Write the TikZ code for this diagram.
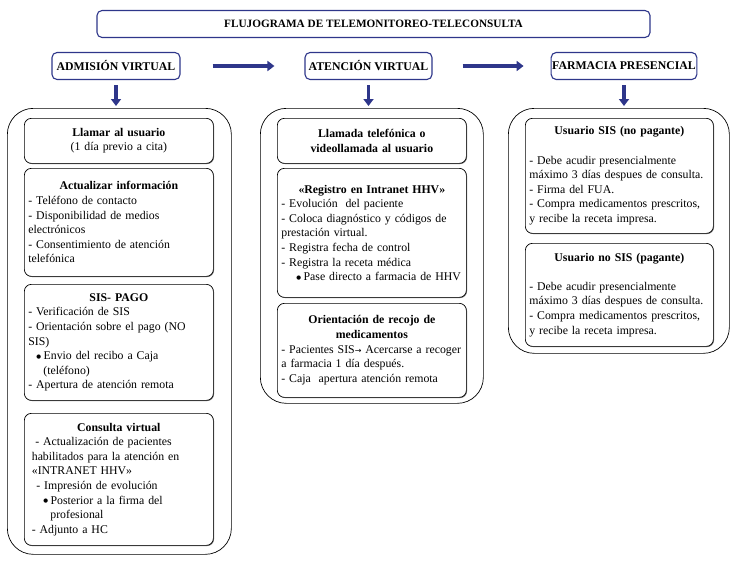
\documentclass[tikz,border=0pt]{standalone}
\usepackage{fontspec}
\setmainfont{Liberation Serif}
\newfontfamily\djv{DejaVu Sans}
\newcommand\bul{\raisebox{1.6pt}{\djv\fontsize{5.5}{5.5}\selectfont ●}}
\newcommand\rarr{{\djv\fontsize{8}{8}\selectfont →}}
\usetikzlibrary{arrows.meta,shadows}
\definecolor{navy}{RGB}{46,54,138}
\begin{document}
\begin{tikzpicture}[x=1pt,y=-1pt,
  hdr/.style={draw=navy, line width=1.1pt, rounded corners=5pt, fill=white,
    font=\fontsize{11.8}{13}\selectfont\bfseries, inner sep=1pt, minimum height=27pt},
  outerbox/.style={draw=black, line width=0.7pt, rounded corners=26pt, anchor=north west, inner sep=0pt},
  inbox/.style={draw=black, line width=0.7pt, rounded corners=7pt, fill=white, anchor=north west,
    inner xsep=4pt, inner ysep=0pt, align=left, font=\fontsize{11.8}{14.6}\selectfont,
    general shadow={fill=black!55, shadow xshift=0.7pt, shadow yshift=-0.7pt}},
  flow/.style={draw=navy, line width=3.6pt, -{Triangle[length=7pt,width=10pt]}}
]
\useasboundingbox (0,0) rectangle (738,562);

% headers
\node[hdr, minimum width=553pt, font=\fontsize{11.25}{13}\selectfont\bfseries] (title) at (373.5,24) {FLUJOGRAMA DE TELEMONITOREO-TELECONSULTA};
\node[hdr, minimum width=128pt] (adm) at (116,66) {ADMISIÓN VIRTUAL};
\node[hdr, minimum width=127pt] (aten) at (368.5,66) {ATENCIÓN VIRTUAL};
\node[hdr, minimum width=142pt] (farm) at (624,66) {FARMACIA PRESENCIAL};

% containers
\node[outerbox, minimum width=224pt, minimum height=446pt] (L) at (7,108) {};
\node[outerbox, minimum width=223pt, minimum height=295pt] (M) at (260,108) {};
\node[outerbox, minimum width=221pt, minimum height=245pt] (R) at (508,108) {};

% arrows
\draw[flow] ([xshift=32pt]adm.east) -- ([xshift=-30pt]aten.west);
\draw[flow] ([xshift=30pt]aten.east) -- ([xshift=-27pt]farm.west);
\coordinate (d1) at (adm.south |- L.north);
\coordinate (d2) at (aten.south |- M.north);
\coordinate (d3) at (farm.south |- R.north);
\draw[flow] ([yshift=-5pt]adm.south) -- ([yshift=2pt]d1);
\draw[flow] ([yshift=-5pt]aten.south) -- ([yshift=2pt]d2);
\draw[flow] ([yshift=-5pt]farm.south) -- ([yshift=2pt]d3);

% left column
\node[inbox, text width=181pt, minimum height=45pt, align=center] (l1) at (24,118)
  {\textbf{Llamar al usuario}\\(1 día previo a cita)};
\node[inbox, text width=181pt, minimum height=108pt] (l2) at (24,168)
  {{\centering\bfseries Actualizar información\par}
   - Teléfono de contacto\\
   - Disponibilidad de medios\\
   electrónicos\\
   - Consentimiento de atención\\
   telefónica};
\node[inbox, text width=181pt, minimum height=116pt] (l3) at (24,284)
  {{\centering\bfseries SIS- PAGO\par}
   - Verificación de SIS\\
   \mbox{- Orientación sobre el pago (NO}\\
   SIS)\\
   \hspace*{8pt}\bul\hspace{2.5pt}Envio del recibo a Caja\\
   \hspace*{15pt}(teléfono)\\
   - Apertura de atención remota};
\node[inbox, text width=181pt, minimum height=132pt] (l4) at (24,413)
  {{\centering\bfseries Consulta virtual\par}
   \hspace*{7pt}- Actualización de pacientes\\
   \mbox{\hspace*{3.5pt}habilitados para la atención en}\\
   \hspace*{3.5pt}«INTRANET HHV»\\
   \hspace*{8pt}- Impresión de evolución\\
   \hspace*{15pt}\bul\hspace{2.5pt}Posterior a la firma del\\
   \hspace*{22pt}profesional\\
   \hspace*{3.5pt}- Adjunto a HC};

% middle column
\node[inbox, text width=181pt, minimum height=45pt, align=center] (m1) at (277,118)
  {\textbf{Llamada telefónica o}\\\textbf{videollamada al usuario}};
\node[inbox, text width=181pt, minimum height=129pt] (m2) at (277,168)
  {{\centering\bfseries «Registro en Intranet HHV»\par}
   - Evolución\ \ del paciente\\
   \mbox{- Coloca diagnóstico y códigos de}\\
   prestación virtual.\\
   - Registra fecha de control\\
   - Registra la receta médica\\
   \mbox{\hspace*{15pt}\bul\hspace{2.5pt}Pase directo a farmacia de HHV}};
\node[inbox, text width=181pt, minimum height=94pt] (m3) at (277,303)
  {{\centering\bfseries Orientación de recojo de\\medicamentos\par}
   \mbox{- Pacientes SIS\rarr\ Acercarse a recoger}\\
   a farmacia 1 día después.\\
   - Caja\ \ apertura atención remota};

% right column
\node[inbox, text width=180pt, minimum height=115pt] (r1) at (525,118)
  {{\centering\bfseries Usuario SIS (no pagante)\par}
   \mbox{}\\
   - Debe acudir presencialmente\\
   \mbox{máximo 3 días despues de consulta.}\\
   - Firma del FUA.\\
   \mbox{- Compra medicamentos prescritos,}\\
   y recibe la receta impresa.};
\node[inbox, text width=180pt, minimum height=103pt] (r2) at (525,243)
  {{\centering\bfseries Usuario no SIS (pagante)\par}
   \mbox{}\\
   - Debe acudir presencialmente\\
   \mbox{máximo 3 días despues de consulta.}\\
   \mbox{- Compra medicamentos prescritos,}\\
   y recibe la receta impresa.};
\end{tikzpicture}
\end{document}
